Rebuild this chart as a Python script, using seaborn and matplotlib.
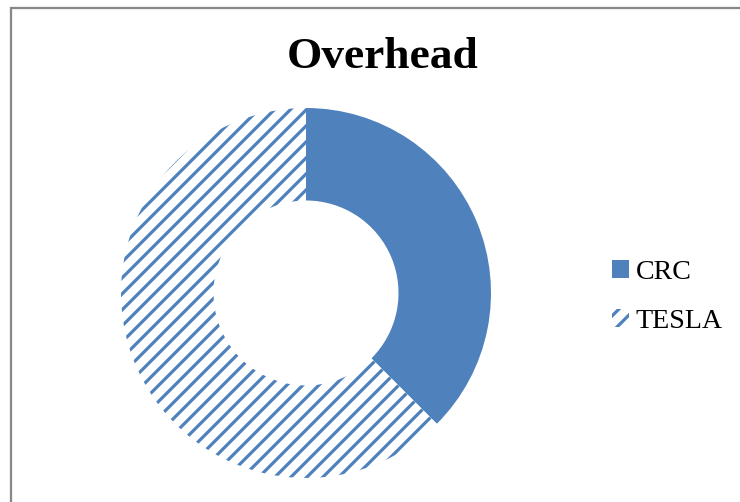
import numpy as np
import matplotlib
matplotlib.use('Agg')
import matplotlib.pyplot as plt
from matplotlib.patches import Rectangle
import seaborn as sns

labels = ['CRC', 'TESLA']
values = [3, 5]
colors = ['#4F81BD', 'white']
hatches = ['', '//']

sns.set_style('white')
plt.rcParams['font.family'] = ['Liberation Serif', 'DejaVu Serif']
plt.rcParams['text.color'] = 'black'
plt.rcParams['hatch.linewidth'] = 2.4

W, H, DPI = 740, 502, 96
fig = plt.figure(figsize=(W / DPI, H / DPI), dpi=DPI)

# pie centre (306,293) px, radius 185 px
cx, cy, r = 306, 293, 185
ax = fig.add_axes([(cx - r) / W, (H - cy - r) / H, 2 * r / W, 2 * r / H])
wedges, _ = ax.pie(values, colors=colors, startangle=90, counterclock=False,
                   wedgeprops=dict(width=0.5, linewidth=0, edgecolor='#4F81BD'))
for w, h in zip(wedges, hatches):
    w.set_hatch(h)
ax.set_xlim(-1, 1)
ax.set_ylim(-1, 1)

fig.text(383 / W, 1 - 57 / H, 'Overhead', ha='center', va='center',
         fontsize=34, fontweight='bold')

fig.legend(wedges, labels, loc='center left', bbox_to_anchor=(598 / W, 1 - 297 / H),
           frameon=False, fontsize=21, handlelength=0.6, handleheight=0.6,
           handletextpad=0.25, labelspacing=0.85, borderpad=0)

fig.add_artist(Rectangle((11 / W, -0.1), 1.2, 1 - 8 / H + 0.1, transform=fig.transFigure,
                         fill=False, edgecolor='#888888', linewidth=1.7))

fig.savefig('out.png', dpi=DPI)
